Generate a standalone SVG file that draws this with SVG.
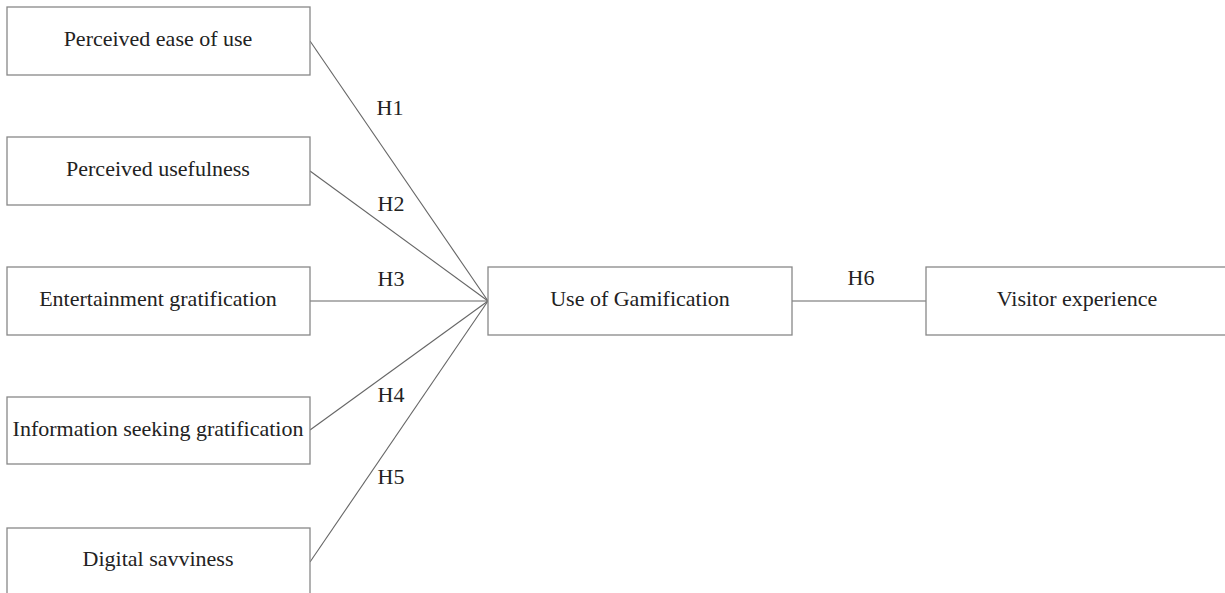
<svg xmlns="http://www.w3.org/2000/svg" width="1225" height="593" viewBox="0 0 1225 593">
<style>
.box{fill:#fff;stroke:#888;stroke-width:1.3}
.t{font-family:"Liberation Serif","Times New Roman",serif;font-size:22px;fill:#222;text-anchor:middle}
.l{stroke:#666;stroke-width:1.1;fill:none}
</style>
<rect width="1225" height="593" fill="#fff"/>
<g id="connectors">
<line class="l" x1="310" y1="41" x2="488" y2="301"/>
<line class="l" x1="310" y1="171" x2="488" y2="301"/>
<line class="l" x1="310" y1="301" x2="488" y2="301"/>
<line class="l" x1="310" y1="430" x2="488" y2="301"/>
<line class="l" x1="310" y1="562" x2="488" y2="301"/>
<line class="l" x1="792" y1="301" x2="926" y2="301"/>
<text class="t" x="390" y="115">H1</text>
<text class="t" x="391" y="211">H2</text>
<text class="t" x="391" y="286">H3</text>
<text class="t" x="391" y="402">H4</text>
<text class="t" x="391" y="484">H5</text>
<text class="t" x="861" y="285">H6</text>
</g>
<g id="n1"><rect class="box" x="7" y="7" width="303" height="68"/><text class="t" x="158" y="46">Perceived ease of use</text></g>
<g id="n2"><rect class="box" x="7" y="137" width="303" height="68"/><text class="t" x="158" y="176">Perceived usefulness</text></g>
<g id="n3"><rect class="box" x="7" y="267" width="303" height="68"/><text class="t" x="158" y="306">Entertainment gratification</text></g>
<g id="n4"><rect class="box" x="7" y="397" width="303" height="67"/><text class="t" x="158" y="436">Information seeking gratification</text></g>
<g id="n5"><rect class="box" x="7" y="528" width="303" height="68"/><text class="t" x="158" y="566">Digital savviness</text></g>
<g id="n6"><rect class="box" x="488" y="267" width="304" height="68"/><text class="t" x="640" y="306">Use of Gamification</text></g>
<g id="n7"><rect class="box" x="926" y="267" width="304" height="68"/><text class="t" x="1077" y="306">Visitor experience</text></g>
</svg>
